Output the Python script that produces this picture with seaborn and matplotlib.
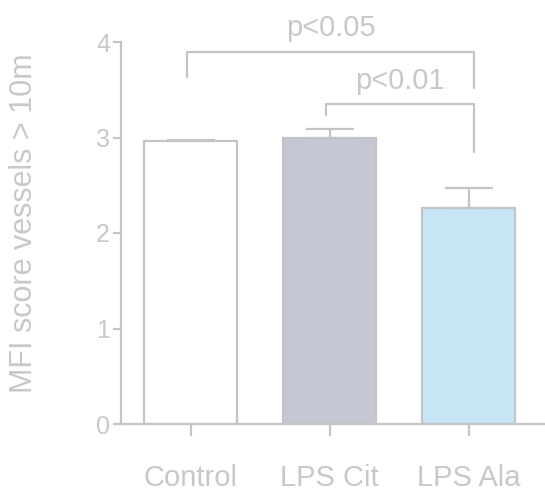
import numpy as np
import seaborn as sns
import matplotlib.pyplot as plt

groups = ["Control", "LPS Cit", "LPS Ala"]
means = [2.96, 3.00, 2.26]
sem = [0.01, 0.09, 0.21]
bar_colors = ["#ffffff", "#c5c8d4", "#c6e6f5"]

# significance brackets: (left group, right group, top, left leg end, right leg end, label)
brackets = [
    (0, 2, 3.90, 3.63, 3.52, "p<0.05"),
    (1, 2, 3.35, 3.24, 2.85, "p<0.01"),
]

line_col = "#c4c4c4"
text_col = "#c8c8c8"

sns.set_style("white")
plt.rcParams['font.family'] = ['Liberation Sans', 'DejaVu Sans']

fig = plt.figure(figsize=(5.45, 4.97), dpi=100)
ax = fig.add_axes([121 / 545, 73 / 497, 424 / 545, 382 / 497])

sns.barplot(x=groups, y=means, hue=groups, palette=bar_colors, legend=False,
            saturation=1, width=0.67, edgecolor=line_col, linewidth=1.6, ax=ax)

# one-sided error bars, as in the original figure
ax.errorbar(np.arange(len(groups)), means, yerr=[[0] * len(sem), sem],
            fmt="none", ecolor=line_col, elinewidth=1.6, capsize=17, capthick=1.6,
            zorder=1)

for (a, b, top, la, lb, lab) in brackets:
    xa, xb = a - 0.03, b + 0.04
    ax.plot([xa, xa, xb, xb], [la, top, top, lb], color=line_col, lw=1.6,
            clip_on=False)
    ax.text((xa + xb) / 2, top + 0.1, lab, ha="center", va="bottom",
            fontsize=21, color=text_col)

ax.set_xlim(-0.504, 2.55)
ax.set_ylim(0, 4)
ax.set_yticks([0, 1, 2, 3, 4])
sns.despine(ax=ax, top=True, right=True)
for s in ["left", "bottom"]:
    ax.spines[s].set_color(line_col)
    ax.spines[s].set_linewidth(1.6)

ax.tick_params(axis="y", length=6, width=1.6, color=line_col, labelcolor=text_col,
               labelsize=18, pad=2, left=True)
for t in ax.get_yticklabels():
    t.set_family(['Liberation Sans Narrow', 'Liberation Sans'])
ax.tick_params(axis="x", length=8.5, width=1.6, color=line_col, labelcolor=text_col,
               labelsize=21, pad=20, bottom=True)

ax.set_ylabel("MFI score vessels > 10m", fontsize=22, color=text_col)
ax.yaxis.set_label_coords(-0.193, 0.526)

fig.savefig("out.png", dpi=100)
